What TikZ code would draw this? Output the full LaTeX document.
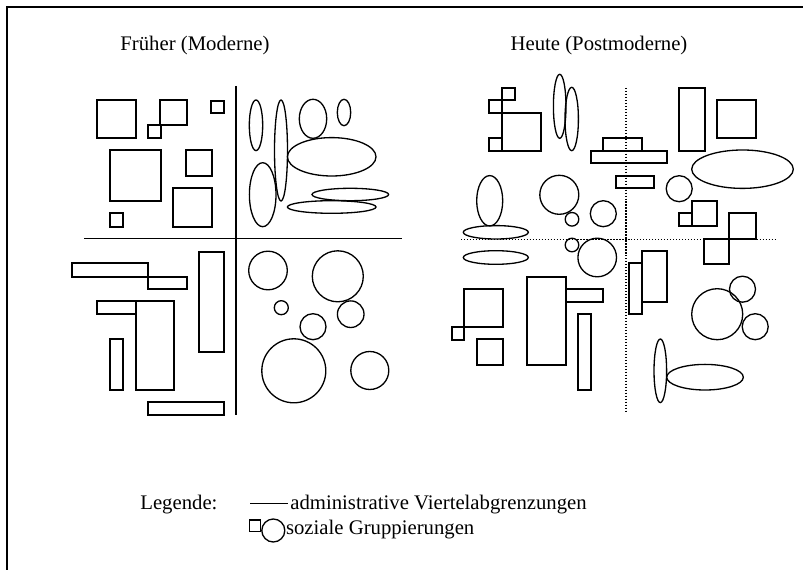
\documentclass[tikz,border=0pt]{standalone}
\usepackage{fontspec}
\setmainfont{Liberation Serif}
\usepackage{tikz}
\usetikzlibrary{positioning}

\begin{document}
\begin{tikzpicture}[x=0.02cm, y=-0.02cm,
  grp/.style={draw, line width=0.75pt},
  border/.style={draw, line width=1.2pt},
  divide/.style={draw, line width=1.1pt},
  dotdiv/.style={draw, line width=0.7pt, dash pattern=on 0.7pt off 1pt},
  txt/.style={font=\fontsize{11.8}{14}\selectfont, inner sep=0pt}]
\useasboundingbox (0,0) rectangle (803,570);
\draw[border] (7,570) -- (7,7) -- (803,7);

% titles
\node[txt, anchor=base] (alt) at (195,51) {Früher (Moderne)};
\node[txt, anchor=base] (neu) at (599,51) {Heute (Postmoderne)};

% left panel: administrative boundaries
\draw[divide] (84,238.5) -- (402,238.5);
\draw[divide] (236,86) -- (236,415);

% left panel: squares
\draw[grp] (97,100) rectangle (136,138);
\draw[grp] (160,100) rectangle (187,125);
\draw[grp] (148,125) rectangle (161,138);
\draw[grp] (211,101) rectangle (224,113);
\draw[grp] (110,150) rectangle (161,201);
\draw[grp] (186,150) rectangle (212,176);
\draw[grp] (173,188) rectangle (212,227);
\draw[grp] (110,213) rectangle (123,227);

% left panel: ellipses
\draw[grp] (256,125.3) ellipse [x radius=6.7, y radius=25.3];
\draw[grp] (281,150.5) ellipse [x radius=6.5, y radius=50.5];
\draw[grp] (313,118.8) ellipse [x radius=13.7, y radius=19.5];
\draw[grp] (344,112.5) ellipse [x radius=6.7, y radius=13.2];
\draw[grp] (331.7,156.8) ellipse [x radius=44.3, y radius=19.2];
\draw[grp] (262.7,194.7) ellipse [x radius=13.3, y radius=32];
\draw[grp] (350.3,194.5) ellipse [x radius=38.3, y radius=6.2];
\draw[grp] (331.7,207) ellipse [x radius=44.3, y radius=6.3];

% left panel: bars
\draw[grp] (72,263) rectangle (148,277);
\draw[grp] (148,277) rectangle (187,289);
\draw[grp] (199,252) rectangle (224,352);
\draw[grp] (97,301) rectangle (136,314);
\draw[grp] (136,301) rectangle (174,390);
\draw[grp] (110,339) rectangle (123,390);
\draw[grp] (148,402) rectangle (224,415);

% left panel: circles
\draw[grp] (268,270.5) circle [radius=19.3];
\draw[grp] (337.8,276.3) circle [radius=25.5];
\draw[grp] (281.3,307.7) circle [radius=7];
\draw[grp] (350.7,314.2) circle [radius=13.3];
\draw[grp] (313,326.7) circle [radius=13];
\draw[grp] (293.8,370.8) circle [radius=32];
\draw[grp] (369.8,370.5) circle [radius=19];

% right panel: dotted boundaries
\draw[dotdiv] (461,239.3) -- (775,239.3);
\draw[dotdiv] (626,88) -- (626,413);

% right panel: rectangles
\draw[grp] (502,88) rectangle (515,100);
\draw[grp] (489,100) rectangle (502,113);
\draw[grp] (502,113) rectangle (541,151);
\draw[grp] (489,138) rectangle (502,151);
\draw[grp] (603,138) rectangle (642,151);
\draw[grp] (591,151) rectangle (667,163);
\draw[grp] (616,176) rectangle (654,188);
\draw[grp] (679,88) rectangle (705,151);
\draw[grp] (717,100) rectangle (756,138);
\draw[grp] (679,213) rectangle (692,226);
\draw[grp] (692,201) rectangle (717,226);
\draw[grp] (729,213) rectangle (756,239);
\draw[grp] (704,239) rectangle (729,264);
\draw[grp] (464,289) rectangle (503,327);
\draw[grp] (452,327) rectangle (464,340);
\draw[grp] (477,339) rectangle (503,365);
\draw[grp] (527,277) rectangle (566,365);
\draw[grp] (566,289) rectangle (603,302);
\draw[grp] (578,314) rectangle (591,390);
\draw[grp] (629,263) rectangle (642,314);
\draw[grp] (642,251) rectangle (667,302);

% right panel: ellipses
\draw[grp] (559.7,106.3) ellipse [x radius=6.3, y radius=32];
\draw[grp] (571.7,119) ellipse [x radius=6.7, y radius=31.7];
\draw[grp] (489.7,200.8) ellipse [x radius=13, y radius=25.2];
\draw[grp] (495.8,232.3) ellipse [x radius=32.5, y radius=6.7];
\draw[grp] (495.8,257.5) ellipse [x radius=32.5, y radius=6.8];
\draw[grp] (742.5,169.2) ellipse [x radius=50.8, y radius=19.2];
\draw[grp] (660.3,370.8) ellipse [x radius=6.3, y radius=31.8];
\draw[grp] (705,377.2) ellipse [x radius=38.3, y radius=12.8];

% right panel: circles
\draw[grp] (559.3,194.8) circle [radius=19.5];
\draw[grp] (572,219.3) circle [radius=6.8];
\draw[grp] (603.3,213.7) circle [radius=13];
\draw[grp] (679.2,188.7) circle [radius=13];
\draw[grp] (572,245) circle [radius=6.8];
\draw[grp] (597.2,257.5) circle [radius=19.3];
\draw[grp] (717.2,314.2) circle [radius=25.5];
\draw[grp] (742.5,289.2) circle [radius=13];
\draw[grp] (755.2,326.7) circle [radius=13];

% legend
\node[txt, anchor=base west] (leg) at (140,509.5) {Legende:};
\coordinate (ln1) at (250,503.3);
\coordinate (ln2) at (288,503.3);
\draw[grp] (ln1) -- (ln2);
\node[txt, anchor=base west] (admin) at (290,509.5) {administrative Viertelabgrenzungen};
\draw[grp] (249.3,520) rectangle (260.7,531.7);
\draw[grp] (273.3,530.5) circle [radius=11.5];
\node[txt, anchor=base west] (sozial) at (285.7,534) {soziale Gruppierungen};
\end{tikzpicture}
\end{document}
